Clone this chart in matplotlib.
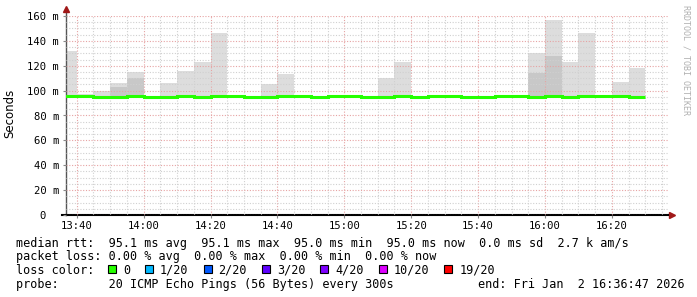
import numpy as np
import matplotlib
matplotlib.use("Agg")
import matplotlib.pyplot as plt
from matplotlib.patches import Rectangle

# minutes after 13:00
step_start = [35 + 5 * i for i in range(35)]          # 13:35 ... 16:25, 300 s steps
step_len = 5
view_start = 36 + 47 / 60                               # 13:36:47
view_end = 216 + 47 / 60                                # 16:36:47

nan = np.nan
# smoke: highest ping (light) and dense part (darker), in ms
smoke_max = [132, 97.5, 100, 106, 115, nan, 106, 116, 123, 146,
             nan, nan, 105, 113, nan, nan, nan, nan, nan, 110,
             123, nan, nan, nan, nan, nan, nan, 96.5, 130, 157,
             123, 146, nan, 107, 118]
smoke_dense = [nan, nan, nan, 103, 110, nan, nan, nan, nan, nan,
               nan, nan, nan, nan, nan, nan, nan, nan, nan, nan,
               nan, nan, nan, nan, nan, nan, nan, nan, 114, 128,
               nan, nan, nan, nan, nan]
median_rtt = [95.3, 95.3, 94.6, 94.6, 95.3, 94.6, 94.6, 95.3, 94.6, 95.3,
              95.3, 94.6, 94.6, 95.3, 95.3, 94.6, 95.3, 95.3, 94.6, 94.6,
              95.3, 94.6, 95.3, 95.3, 94.6, 94.6, 95.3, 95.3, 94.6, 95.3,
              94.6, 95.3, 95.3, 95.3, 94.6]
smoke_base = 95.0

major_ticks = [40, 60, 80, 100, 120, 140, 160, 180, 200]
major_labels = ["13:40", "14:00", "14:20", "14:40", "15:00",
                "15:20", "15:40", "16:00", "16:20"]
y_ticks = [0, 20, 40, 60, 80, 100, 120, 140, 160]
y_labels = ["0  ", "20 m", "40 m", "60 m", "80 m", "100 m", "120 m", "140 m", "160 m"]

loss_labels = ["0", "1/20", "2/20", "3/20", "4/20", "10/20", "19/20"]
loss_colors = ["#26ff00", "#00b8ff", "#0059ff", "#5e00ff", "#7e00ff", "#dd00ff", "#ff0000"]

legend_lines = [
    "median rtt:  95.1 ms avg  95.1 ms max  95.0 ms min  95.0 ms now  0.0 ms sd  2.7 k am/s",
    "packet loss: 0.00 % avg  0.00 % max  0.00 % min  0.00 % now",
    "loss color:",
    "probe:       20 ICMP Echo Pings (56 Bytes) every 300s",
]
end_text = "end: Fri Jan  2 16:36:47 2026"

MONO = "DejaVu Sans Mono"
FS = 8.5      # legend text
AXFS = 7.6    # tick labels
W, H = 697, 297

fig = plt.figure(figsize=(W / 100, H / 100), dpi=100)
ax = fig.add_axes([66 / W, (H - 215) / H, (668 - 66) / W, (215 - 16) / H])

smax = np.array(smoke_max)
sden = np.array(smoke_dense)
ax.bar(step_start, smax - smoke_base, width=step_len, bottom=smoke_base,
       align="edge", color="#dddddd", linewidth=0, zorder=1)
ax.bar(step_start, sden - smoke_base, width=step_len, bottom=smoke_base,
       align="edge", color="#c8c8c8", linewidth=0, zorder=1.1)

edges = step_start + [step_start[-1] + step_len]
ax.stairs(median_rtt, edges, baseline=None, color="#26ff00", lw=2.2, zorder=3)

ax.set_xlim(view_start, view_end)
ax.set_ylim(0, 160)

ax.set_xticks(major_ticks)
ax.set_xticklabels(major_labels, family=MONO, fontsize=AXFS)
ax.set_xticks(np.arange(40, 217, 5), minor=True)
ax.set_yticks(y_ticks)
ax.set_yticklabels(y_labels, family=MONO, fontsize=AXFS)
ax.set_yticks(np.arange(0, 161, 5), minor=True)

ax.tick_params(axis="x", which="major", length=2, pad=2, color="#888888")
ax.tick_params(axis="y", which="major", length=2, pad=3, color="#888888")
ax.tick_params(which="minor", length=0)

ax.set_axisbelow(False)
ax.grid(which="minor", color="#d0d0d0", linestyle=(0, (1, 1.5)), lw=0.8)
ax.grid(which="major", color="#e6a3a3", linestyle=(0, (1, 1.5)), lw=0.8)

for s in ("top", "right"):
    ax.spines[s].set_visible(False)
ax.spines["left"].set_color("#555555")
ax.spines["left"].set_linewidth(1.0)
ax.spines["bottom"].set_color("black")
ax.spines["bottom"].set_linewidth(1.5)
ax.set_facecolor("white")

# axis arrows
tr = ax.transAxes
ax.plot([0, 0], [1, 1.035], transform=tr, color="#555555", lw=1.0, clip_on=False)
ax.plot(0, 1.035, transform=tr, marker="^", ms=5, color="#a01818", clip_on=False)
ax.plot([-0.007, 0], [0, 0], transform=tr, color="black", lw=1.5, clip_on=False)
ax.plot(1.006, 0, transform=tr, marker=">", ms=5, color="#a01818", clip_on=False)

fig.text(10 / W, 1 - 113 / H, "Seconds", rotation=90, ha="center", va="center",
         fontsize=FS, family="DejaVu Sans")
fig.text(686 / W, 1 - 5 / H, "RRDTOOL / TOBI OETIKER", rotation=270,
         ha="center", va="top", fontsize=6, family=MONO, color="#b0b0b0")

row_y = [241.5, 255.2, 268.9, 282.6]
for line, y in zip(legend_lines, row_y):
    fig.text(16 / W, 1 - y / H, line, ha="left", va="center_baseline",
             fontsize=FS, family=MONO)
fig.text(478 / W, 1 - row_y[3] / H, end_text, ha="left", va="center_baseline",
         fontsize=FS, family=MONO)

# loss colour swatches
char_w = 7.1
bx = 108.0
for lab, col in zip(loss_labels, loss_colors):
    fig.patches.append(Rectangle((bx / W, 1 - 273 / H), 8 / W, 8 / H,
                                 transform=fig.transFigure, facecolor=col,
                                 edgecolor="black", lw=0.8))
    lx = bx + 15
    fig.text(lx / W, 1 - row_y[2] / H, lab, ha="left", va="center_baseline",
             fontsize=FS, family=MONO)
    bx = lx + len(lab) * char_w + 15

fig.savefig("out.png", dpi=100, facecolor="white")
